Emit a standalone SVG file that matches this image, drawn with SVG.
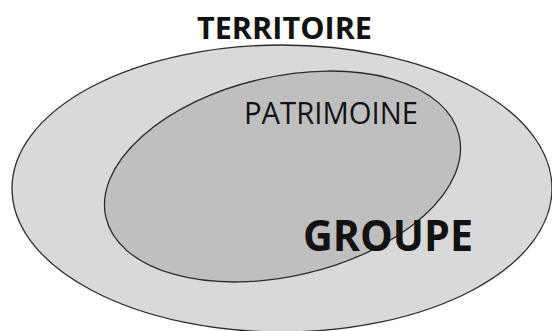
<svg xmlns="http://www.w3.org/2000/svg" width="552" height="331" viewBox="0 0 552 331">
<style>
.sh{stroke:#2b2b2b;stroke-width:1.3}
.t{font-family:"Open Sans","Liberation Sans",sans-serif;fill:#111}
</style>
<rect width="552" height="331" fill="#ffffff"/>
<g id="territoire">
<ellipse class="sh" cx="282" cy="188.5" rx="270" ry="143.5" fill="#d9d9d9"/>
<text class="t" x="197" y="39" font-size="31" font-weight="bold" textLength="175" lengthAdjust="spacingAndGlyphs">TERRITOIRE</text>
</g>
<g id="patrimoine">
<ellipse class="sh" cx="282.5" cy="176.5" rx="181.3" ry="99.8" fill="#bfbfbf" transform="rotate(-13.06 282.5 176.5)"/>
<text class="t" x="244" y="124" font-size="30.5" textLength="174" lengthAdjust="spacingAndGlyphs">PATRIMOINE</text>
</g>
<g id="groupe">
<text class="t" x="303" y="251" font-size="43" font-weight="bold" textLength="170" lengthAdjust="spacingAndGlyphs">GROUPE</text>
</g>
<g id="connectors"/>
</svg>
